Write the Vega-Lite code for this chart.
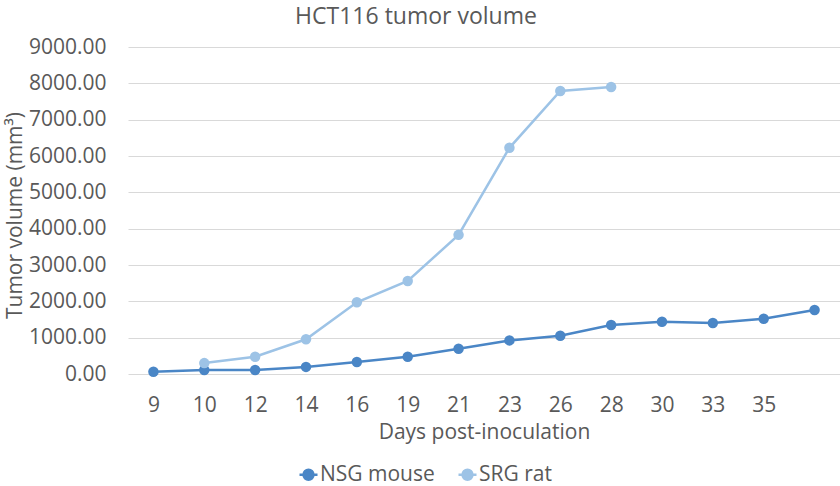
{
  "$schema": "https://vega.github.io/schema/vega-lite/v6.json",
  "width": 712,
  "height": 327,
  "autosize": {"type": "none"},
  "padding": {"left": 128, "top": 47, "right": 0, "bottom": 112},
  "background": "#ffffff",
  "title": {
    "text": "HCT116 tumor volume",
    "fontSize": 23,
    "font": "Open Sans",
    "fontWeight": "normal",
    "color": "#595959",
    "anchor": "middle",
    "letterSpacing": 0.6,
    "dx": -68,
    "offset": 7
  },
  "data": {
    "values": [
      {"day": "9", "series": "NSG mouse", "volume": 60},
      {"day": "10", "series": "NSG mouse", "volume": 110},
      {"day": "12", "series": "NSG mouse", "volume": 110},
      {"day": "14", "series": "NSG mouse", "volume": 195},
      {"day": "16", "series": "NSG mouse", "volume": 330},
      {"day": "19", "series": "NSG mouse", "volume": 475},
      {"day": "21", "series": "NSG mouse", "volume": 695},
      {"day": "23", "series": "NSG mouse", "volume": 925},
      {"day": "26", "series": "NSG mouse", "volume": 1055},
      {"day": "28", "series": "NSG mouse", "volume": 1350},
      {"day": "30", "series": "NSG mouse", "volume": 1440},
      {"day": "33", "series": "NSG mouse", "volume": 1405},
      {"day": "35", "series": "NSG mouse", "volume": 1520},
      {"day": "", "series": "NSG mouse", "volume": 1760},
      {"day": "10", "series": "SRG rat", "volume": 300},
      {"day": "12", "series": "SRG rat", "volume": 477},
      {"day": "14", "series": "SRG rat", "volume": 955},
      {"day": "16", "series": "SRG rat", "volume": 1975},
      {"day": "19", "series": "SRG rat", "volume": 2560},
      {"day": "21", "series": "SRG rat", "volume": 3830},
      {"day": "23", "series": "SRG rat", "volume": 6225},
      {"day": "26", "series": "SRG rat", "volume": 7790},
      {"day": "28", "series": "SRG rat", "volume": 7900}
    ]
  },
  "mark": {
    "type": "line",
    "strokeWidth": 2.5,
    "point": {"filled": true, "size": 110, "opacity": 1}
  },
  "encoding": {
    "x": {
      "field": "day",
      "type": "ordinal",
      "sort": ["9", "10", "12", "14", "16", "19", "21", "23", "26", "28", "30", "33", "35", ""],
      "scale": {"padding": 0.5},
      "axis": {
        "title": "Days post-inoculation",
        "labelAngle": 0,
        "labelPadding": 20,
        "labelFontSize": 21,
        "titleFontSize": 21,
        "titlePadding": 6,
        "grid": false
      }
    },
    "y": {
      "field": "volume",
      "type": "quantitative",
      "scale": {"domain": [0, 9000], "nice": false},
      "axis": {
        "title": "Tumor volume (mm³)",
        "values": [0, 1000, 2000, 3000, 4000, 5000, 6000, 7000, 8000, 9000],
        "format": ".2f",
        "labelPadding": 22,
        "labelFontSize": 21,
        "titleFontSize": 21,
        "titleX": -113,
        "titleY": 168,
        "titleAngle": -90,
        "titleBaseline": "middle",
        "titleAlign": "center",
        "grid": true,
        "gridColor": "#d9d9d9",
        "gridWidth": 1
      }
    },
    "color": {
      "field": "series",
      "type": "nominal",
      "scale": {"domain": ["NSG mouse", "SRG rat"], "range": ["#4a86c6", "#9dc3e6"]},
      "legend": {
        "orient": "none",
        "legendX": 170,
        "legendY": 417,
        "direction": "horizontal",
        "title": null,
        "symbolType": "M-1,0L1,0M-0.55,0A0.55,0.55,0,1,1,0.55,0A0.55,0.55,0,1,1,-0.55,0Z",
        "symbolSize": 324,
        "symbolStrokeWidth": 2.5,
        "labelFontSize": 21,
        "labelFont": "Open Sans",
        "labelColor": "#595959",
        "labelOffset": 1,
        "columnPadding": 18,
        "encode": {"symbols": {"update": {"fill": {"scale": "color", "field": "value"}, "opacity": {"value": 1}}}}
      }
    }
  },
  "config": {
    "view": {"stroke": null},
    "font": "Open Sans",
    "axis": {
      "domain": false,
      "ticks": false,
      "labelFont": "Open Sans",
      "titleFont": "Open Sans",
      "labelColor": "#595959",
      "titleColor": "#595959",
      "titleFontWeight": "normal"
    }
  }
}
